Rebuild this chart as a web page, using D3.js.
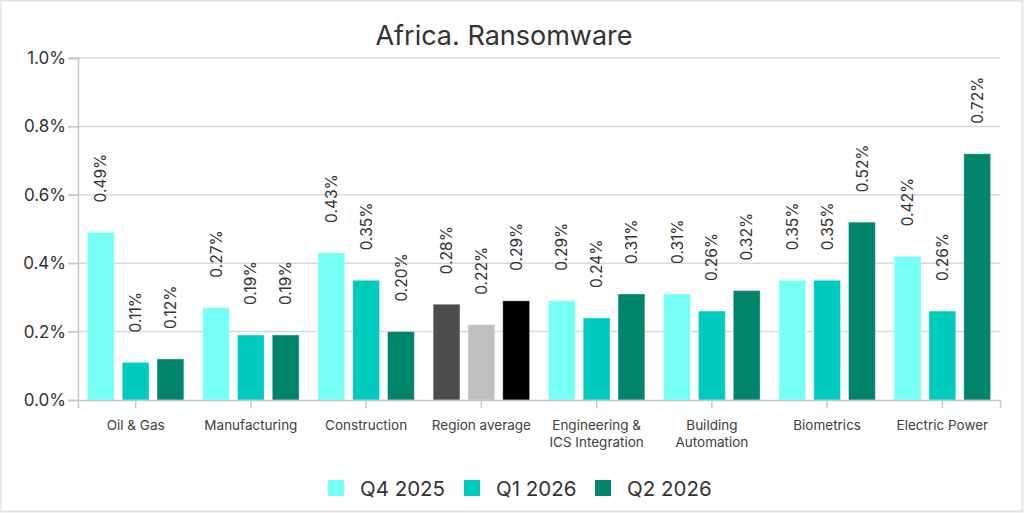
<!DOCTYPE html>
<html>
<head>
<meta charset="utf-8">
<script src="https://cdn.jsdelivr.net/npm/d3@7"></script>
<style>
  html, body { margin: 0; padding: 0; background: #fff; }
  svg { display: block; font-family: Inter, "Noto Sans", sans-serif; }
</style>
</head>
<body>
<div id="chart"></div>
<script>
// Data
const categories = [
  ['Oil & Gas'],
  ['Manufacturing'],
  ['Construction'],
  ['Region average'],
  ['Engineering &', 'ICS Integration'],
  ['Building', 'Automation'],
  ['Biometrics'],
  ['Electric Power']
];
const series = ['Q4 2025', 'Q1 2026', 'Q2 2026'];
const q4_2025 = [0.49, 0.27, 0.43, 0.28, 0.29, 0.31, 0.35, 0.42];
const q1_2026 = [0.11, 0.19, 0.35, 0.22, 0.24, 0.26, 0.35, 0.26];
const q2_2026 = [0.12, 0.19, 0.20, 0.29, 0.31, 0.32, 0.52, 0.72];
const yTicks = [0, 0.2, 0.4, 0.6, 0.8, 1.0];

const seriesColors = ['#75fff5', '#00ccbe', '#00846c'];
const averageColors = ['#4d4d4d', '#bfbfbf', '#000000'];

const width = 1024, height = 513;
const margin = { top: 58, right: 24, bottom: 113, left: 78 };

const svg = d3.select('#chart').append('svg')
  .attr('width', width)
  .attr('height', height);

// frame
svg.append('rect')
  .attr('x', 0.5).attr('y', 0.5)
  .attr('width', width - 2).attr('height', height - 2)
  .attr('fill', '#fff')
  .attr('stroke', '#e3e3e3')
  .attr('stroke-width', 2);

const catKeys = categories.map(c => c.join(' '));
const values = [q4_2025, q1_2026, q2_2026];

const x = d3.scaleBand()
  .domain(catKeys)
  .range([margin.left, width - margin.right]);

const xInner = d3.scaleBand()
  .domain(series)
  .range([0, x.bandwidth()])
  .paddingInner(0.23)
  .paddingOuter(0.27);

const y = d3.scaleLinear()
  .domain([0, 1.0])
  .range([height - margin.bottom, margin.top]);

// title
svg.append('text')
  .attr('x', 504)
  .attr('y', 45)
  .attr('text-anchor', 'middle')
  .attr('font-size', 27)
  .attr('fill', '#333')
  .text('Africa. Ransomware');

// gridlines
svg.append('g')
  .selectAll('line')
  .data(yTicks.filter(t => t > 0))
  .join('line')
  .attr('x1', margin.left - 10)
  .attr('x2', width - margin.right)
  .attr('y1', d => y(d))
  .attr('y2', d => y(d))
  .attr('stroke', '#d9d9d9')
  .attr('stroke-width', 1.5);

// y axis
const yAxis = svg.append('g')
  .attr('transform', `translate(${margin.left},0)`)
  .call(d3.axisLeft(y).tickValues(yTicks).tickSize(10).tickPadding(2)
    .tickFormat(d => d.toFixed(1) + '%'));
yAxis.select('.domain').attr('stroke', '#c8c8c8').attr('stroke-width', 1.5);
yAxis.selectAll('.tick line').attr('stroke', '#c8c8c8').attr('stroke-width', 1.5);
yAxis.selectAll('.tick text')
  .attr('font-size', 17)
  .attr('font-family', 'Inter, "Noto Sans", sans-serif')
  .attr('fill', '#333');

// bars
const groups = svg.append('g')
  .selectAll('g')
  .data(catKeys)
  .join('g')
  .attr('transform', d => `translate(${x(d)},0)`);

groups.each(function(cat, ci) {
  const g = d3.select(this);
  const isAvg = cat === 'Region average';
  const rows = series.map((s, si) => ({ s, si, v: values[si][ci] }));

  g.selectAll('rect')
    .data(rows)
    .join('rect')
    .attr('x', d => xInner(d.s))
    .attr('width', xInner.bandwidth())
    .attr('y', d => y(d.v))
    .attr('height', d => y(0) - y(d.v))
    .attr('fill', d => (isAvg ? averageColors : seriesColors)[d.si])
    .attr('stroke', '#ffffff')
    .attr('stroke-opacity', 0.35)
    .attr('stroke-width', 1);

  g.selectAll('text.val')
    .data(rows)
    .join('text')
    .attr('class', 'val')
    .attr('transform', d =>
      `translate(${xInner(d.s) + xInner.bandwidth() / 2},${y(d.v) - 30}) rotate(-90)`)
    .attr('dy', '0.36em')
    .attr('text-anchor', 'start')
    .attr('font-size', 15.5)
    .attr('fill', '#333')
    .text(d => d.v.toFixed(2) + '%');
});

// x axis
const xAxis = svg.append('g')
  .attr('transform', `translate(0,${y(0)})`)
  .call(d3.axisBottom(x).tickSize(8).tickFormat(''));
xAxis.select('.domain').attr('stroke', '#c8c8c8').attr('stroke-width', 1.5);
xAxis.selectAll('.tick line').attr('stroke', '#c8c8c8').attr('stroke-width', 1.5);

const xLabels = svg.append('g')
  .selectAll('text')
  .data(categories)
  .join('text')
  .attr('x', (d, i) => x(catKeys[i]) + x.bandwidth() / 2)
  .attr('y', 430)
  .attr('text-anchor', 'middle')
  .attr('font-size', 13.5)
  .attr('fill', '#404040');
xLabels.selectAll('tspan')
  .data(d => d)
  .join('tspan')
  .attr('x', function() { return this.parentNode.getAttribute('x'); })
  .attr('dy', (d, i) => i === 0 ? 0 : 17)
  .text(d => d);

// legend
const legendX = [328, 464, 595];
const legend = svg.append('g')
  .selectAll('g')
  .data(series)
  .join('g')
  .attr('transform', (d, i) => `translate(${legendX[i]},480)`);
legend.append('rect')
  .attr('width', 16)
  .attr('height', 16)
  .attr('fill', (d, i) => seriesColors[i]);
legend.append('text')
  .attr('x', 32)
  .attr('y', 16)
  .attr('font-size', 20.5)
  .attr('fill', '#333')
  .text(d => d);
</script>
</body>
</html>
